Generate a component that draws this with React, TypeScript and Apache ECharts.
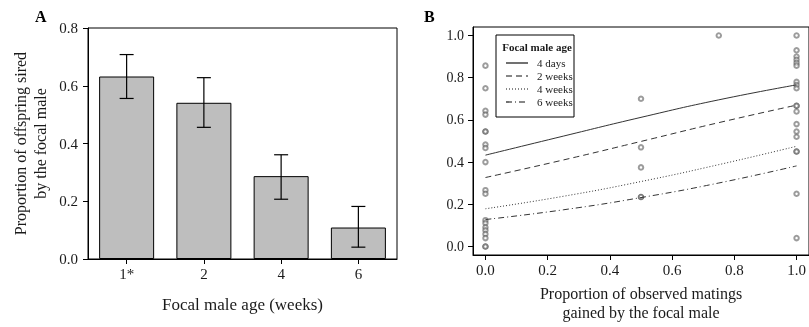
import React, { useEffect, useRef } from "react";
import * as echarts from "echarts";

// Panel A data
const ageCats = ["1*", "2", "4", "6"];
const siredMean = [0.632, 0.541, 0.287, 0.109];
const siredLow = [0.556, 0.456, 0.207, 0.041];
const siredHigh = [0.708, 0.628, 0.361, 0.182];

// Panel B data: observed points grouped by x value
const propAt0 = [0.857, 0.75, 0.643, 0.625, 0.545, 0.545, 0.483, 0.467, 0.4, 0.267, 0.25, 0.125, 0.111, 0.091, 0.077, 0.059, 0.04, 0, 0];
const propAtHalf = [0.7, 0.47, 0.375, 0.235, 0.235];
const propAt3q = [1.0];
const propAt1 = [1.0, 0.93, 0.9, 0.885, 0.87, 0.857, 0.78, 0.765, 0.75, 0.667, 0.667, 0.64, 0.58, 0.545, 0.52, 0.45, 0.45, 0.25, 0.04];

// Fitted curves
const fitX = [0, 0.25, 0.5, 0.75, 1];
const fit4d = [0.433, 0.523, 0.612, 0.695, 0.766];
const fit2w = [0.327, 0.41, 0.498, 0.587, 0.67];
const fit4w = [0.179, 0.238, 0.308, 0.388, 0.475];
const fit6w = [0.128, 0.174, 0.232, 0.301, 0.382];
const fitNames = ["4 days", "2 weeks", "4 weeks", "6 weeks"];
const tickB = [0, 0.2, 0.4, 0.6, 0.8, 1.0];

const FONT = "Liberation Serif";
const TXT = "#1a1a1a";

export default function App() {
  const ref = useRef<HTMLDivElement>(null);
  useEffect(() => {
    if (!ref.current) return;
    const chart = echarts.init(ref.current, undefined, { renderer: "svg" });

    const pts: number[][] = [];
    propAt0.forEach((v) => pts.push([0, v]));
    propAtHalf.forEach((v) => pts.push([0.5, v]));
    propAt3q.forEach((v) => pts.push([0.75, v]));
    propAt1.forEach((v) => pts.push([1, v]));

    const fits = [fit4d, fit2w, fit4w, fit6w];
    const dashes: any[] = ["solid", [6, 4], [1, 2], [6, 3, 1, 3]];

    const errData = ageCats.map((_, i) => [i, siredLow[i], siredHigh[i]]);

    const legendRows = [63, 76, 89, 102];
    const legendGraphics: any[] = [];
    fitNames.forEach((n, i) => {
      legendGraphics.push({
        type: "line",
        shape: { x1: 506, y1: legendRows[i], x2: 528, y2: legendRows[i] },
        style: { stroke: "#111", lineWidth: 1.2, lineDash: dashes[i] === "solid" ? null : dashes[i] },
        z: 10,
      });
      legendGraphics.push({
        type: "text",
        x: 537,
        y: legendRows[i],
        style: { text: n, fontSize: 11, fontFamily: FONT, fill: TXT, align: "left", verticalAlign: "middle" },
        z: 10,
      });
    });

    const option: any = {
      animation: false,
      textStyle: { fontFamily: FONT, color: TXT },
      grid: [
        { left: 88, top: 28, width: 309, height: 231, show: true, borderColor: "#000", borderWidth: 1, backgroundColor: "transparent" },
        { left: 473, top: 27, width: 337, height: 233, show: true, borderColor: "#000", borderWidth: 1, backgroundColor: "transparent" },
      ],
      xAxis: [
        {
          type: "category",
          gridIndex: 0,
          data: ageCats,
          axisLine: { show: true, onZero: false, lineStyle: { color: "#000" } },
          axisTick: { show: true, alignWithLabel: true, length: 5, lineStyle: { color: "#000" } },
          axisLabel: { fontSize: 15, color: TXT, fontFamily: FONT, margin: 7 },
          name: "Focal male age (weeks)",
          nameLocation: "middle",
          nameGap: 37,
          nameTextStyle: { fontSize: 17, color: TXT, fontFamily: FONT },
        },
        {
          type: "value",
          gridIndex: 1,
          min: -0.04,
          max: 1.04,
          splitLine: { show: false },
          axisLine: { show: true, onZero: false, lineStyle: { color: "#000" } },
          axisTick: { show: true, length: 5, customValues: tickB, lineStyle: { color: "#000" } },
          axisLabel: { fontSize: 15, color: TXT, fontFamily: FONT, margin: 7, customValues: tickB, formatter: (v: number) => v.toFixed(1) },
          name: "Proportion of observed matings\ngained by the focal male",
          nameLocation: "middle",
          nameGap: 29,
          nameTextStyle: { fontSize: 16, color: TXT, fontFamily: FONT, lineHeight: 19 },
        },
      ],
      yAxis: [
        {
          type: "value",
          gridIndex: 0,
          min: 0,
          max: 0.8,
          interval: 0.2,
          splitLine: { show: false },
          axisLine: { show: true, onZero: false, lineStyle: { color: "#000" } },
          axisTick: { show: true, length: 5, lineStyle: { color: "#000" } },
          axisLabel: { fontSize: 15, color: TXT, fontFamily: FONT, margin: 10, formatter: (v: number) => v.toFixed(1) },
          name: "Proportion of offspring sired\nby the focal male",
          nameLocation: "middle",
          nameGap: 38,
          nameRotate: 90,
          nameTextStyle: { fontSize: 16, color: TXT, fontFamily: FONT, lineHeight: 20 },
        },
        {
          type: "value",
          gridIndex: 1,
          min: -0.04,
          max: 1.04,
          splitLine: { show: false },
          axisLine: { show: true, onZero: false, lineStyle: { color: "#000" } },
          axisTick: { show: true, length: 5, customValues: tickB, lineStyle: { color: "#000" } },
          axisLabel: { fontSize: 14, color: TXT, fontFamily: FONT, margin: 9, customValues: tickB, formatter: (v: number) => v.toFixed(1) },
        },
      ],
      graphic: [
        { type: "text", left: 35, top: 8, style: { text: "A", fontSize: 16, fontWeight: "bold", fontFamily: FONT, fill: "#000" } },
        { type: "text", left: 424, top: 8, style: { text: "B", fontSize: 16, fontWeight: "bold", fontFamily: FONT, fill: "#000" } },
        { type: "rect", shape: { x: 496, y: 35, width: 78, height: 82 }, style: { fill: "none", stroke: "#000", lineWidth: 1 }, z: 10 },
        { type: "text", x: 537, y: 47, style: { text: "Focal male age", fontSize: 11, fontWeight: "bold", fontFamily: FONT, fill: TXT, align: "center", verticalAlign: "middle" }, z: 10 },
        ...legendGraphics,
      ],
      series: [
        {
          type: "bar",
          xAxisIndex: 0,
          yAxisIndex: 0,
          data: siredMean,
          barWidth: 55,
          itemStyle: { color: "#bebebe", borderColor: "#000", borderWidth: 1 },
        },
        {
          type: "custom",
          xAxisIndex: 0,
          yAxisIndex: 0,
          data: errData,
          renderItem: (params: any, api: any) => {
            const lo = api.coord([api.value(0), api.value(1)]);
            const hi = api.coord([api.value(0), api.value(2)]);
            const w = 7;
            const st = { stroke: "#000", lineWidth: 1.2 };
            return {
              type: "group",
              children: [
                { type: "line", shape: { x1: lo[0], y1: lo[1], x2: hi[0], y2: hi[1] }, style: st },
                { type: "line", shape: { x1: lo[0] - w, y1: lo[1], x2: lo[0] + w, y2: lo[1] }, style: st },
                { type: "line", shape: { x1: hi[0] - w, y1: hi[1], x2: hi[0] + w, y2: hi[1] }, style: st },
              ],
            };
          },
          z: 5,
        },
        {
          type: "scatter",
          name: "observed",
          xAxisIndex: 1,
          yAxisIndex: 1,
          data: pts,
          symbol: "emptyCircle",
          symbolSize: 4.5,
          itemStyle: { color: "#5a5a5a", borderColor: "#5a5a5a", borderWidth: 0.8, opacity: 0.6 },
        },
        ...fits.map((f, i) => ({
          type: "line",
          name: fitNames[i],
          xAxisIndex: 1,
          yAxisIndex: 1,
          data: fitX.map((x, j) => [x, f[j]]),
          smooth: true,
          symbol: "none",
          itemStyle: { color: "#333" },
          lineStyle: { color: "#333", width: 1, type: dashes[i] },
        })),
      ],
    };
    chart.setOption(option);
    return () => chart.dispose();
  }, []);
  return <div ref={ref} style={{ position: "fixed", left: 0, top: 0, width: 809, height: 327 }} />;
}
